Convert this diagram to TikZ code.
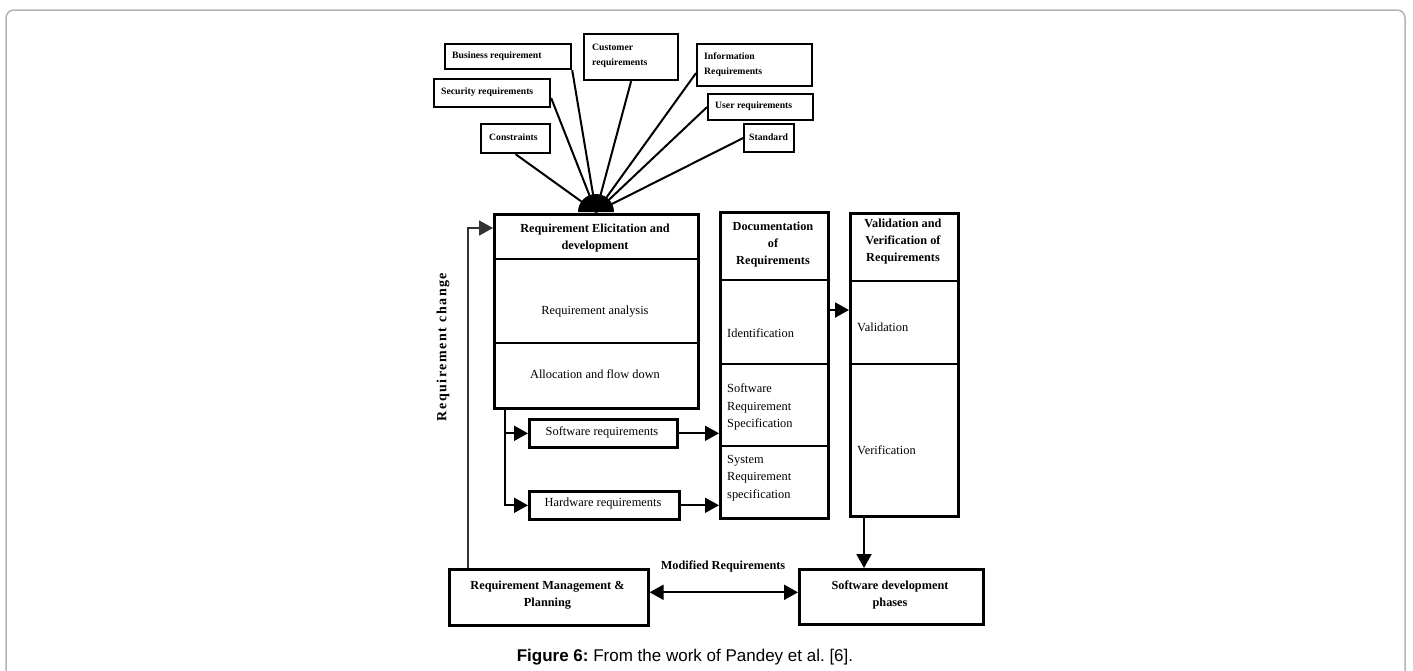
\documentclass[tikz,border=0pt]{standalone}
\usepackage{fontspec}
\setmainfont{Liberation Serif}
\newfontfamily\capfont{Liberation Sans}
\usetikzlibrary{arrows.meta}
\begin{document}
\begin{tikzpicture}[x=1pt,y=-1pt,
  box/.style={draw, line width=2.6pt, inner sep=0pt, anchor=north west},
  tagbox/.style={draw, line width=2.2pt, inner sep=0pt, anchor=north west},
  divider/.style={line width=1.6pt},
  spoke/.style={line width=2pt},
  flow/.style={line width=2pt, -{Triangle[length=14pt,width=15pt]}},
  hd/.style={font=\fontsize{12.3}{17}\selectfont\bfseries, align=center, inner sep=0pt},
  txt/.style={font=\fontsize{12.4}{17.5}\selectfont, align=left, inner sep=0pt},
  tag/.style={font=\fontsize{9.7}{15}\selectfont\bfseries, align=left, inner sep=0pt, anchor=west},
]
\useasboundingbox (0,0) rectangle (1413,670);

% outer frame, open at the bottom
\draw[line width=1.5pt, color=gray!60]
  (6,672) -- (6,18) arc[start angle=180, end angle=270, radius=8]
  -- (1397,10) arc[start angle=270, end angle=360, radius=8] -- (1405,672);

% ---- requirement sources ----
\node[tagbox, minimum width=126pt, minimum height=25pt] (biz)  at (444,43) {};
\node[tagbox, minimum width=94pt,  minimum height=46pt] (cust) at (583,33) {};
\node[tagbox, minimum width=115pt, minimum height=42pt] (info) at (696,43) {};
\node[tagbox, minimum width=116pt, minimum height=28pt] (sec)  at (433,78) {};
\node[tagbox, minimum width=105pt, minimum height=26pt] (user) at (707,93) {};
\node[tagbox, minimum width=69pt,  minimum height=29pt] (cons) at (480,123) {};
\node[tagbox, minimum width=50pt,  minimum height=28pt] (std)  at (743,123) {};

\node[tag] (bizt)  at (452,56)    {Business requirement};
\node[tag] (custt) at (592,55.5)  {Customer\\requirements};
\node[tag] (infot) at (704,64.5)  {Information\\Requirements};
\node[tag] (sect)  at (441,92)    {Security requirements};
\node[tag] (usert) at (715,106)   {User requirements};
\node[tag] (const) at (489,137)   {Constraints};
\node[tag] (stdt)  at (749,137)   {Standard};

% spokes gathering into the hub
\coordinate (hub) at (596,212);
\draw[spoke] (cons.south) -- (hub);
\draw[spoke] ([yshift=-5pt]sec.east) -- (hub);
\draw[spoke] (biz.south east) -- (hub);
\draw[spoke] (cust.south) -- (hub);
\draw[spoke] ([yshift=-8pt]info.west) -- (hub);
\draw[spoke] (user.west) -- (hub);
\draw[spoke] (std.west) -- (hub);
\fill (578,212) arc[start angle=180, end angle=360, radius=18] -- cycle;

% ---- elicitation and development ----
\node[box, minimum width=204pt, minimum height=194pt] (elic) at (493,213) {};
\draw[divider] (493,259) -- (697,259);
\draw[divider] (493,343) -- (697,343);
\node[hd] (elich) at (595,238) {Requirement Elicitation and\\development};
\node[txt] (anal)  at (595,312) {Requirement analysis};
\node[txt] (alloc) at (595,374) {Allocation and flow down};

% ---- documentation ----
\node[box, minimum width=108pt, minimum height=306pt] (doc) at (719,211) {};
\draw[divider] (719,280) -- (827,280);
\draw[divider] (719,364) -- (827,364);
\draw[divider] (719,446) -- (827,446);
\node[hd] (doch) at (773,245) {Documentation\\of\\Requirements};
\node[txt, anchor=west] (ident) at (727,333) {Identification};
\node[txt, anchor=west] (srs)   at (727,407) {Software\\Requirement\\Specification};
\node[txt, anchor=west] (sysrs) at (727,478) {System\\Requirement\\specification};

% ---- validation and verification ----
\node[box, minimum width=108pt, minimum height=303pt] (val) at (849,212) {};
\draw[divider] (849,281) -- (957,281);
\draw[divider] (849,364) -- (957,364);
\node[hd] (valh) at (903,242) {Validation and\\Verification of\\Requirements};
\node[txt, anchor=west] (valt) at (857,327) {Validation};
\node[txt, anchor=west] (vert) at (857,450) {Verification};

% ---- allocated requirements ----
\node[box, minimum width=148pt, minimum height=28pt] (sw) at (528,418) {};
\node[box, minimum width=150pt, minimum height=28pt] (hw) at (528,490) {};
\node[txt] (swt) at (602,432) {Software requirements};
\node[txt] (hwt) at (603,504) {Hardware requirements};

% ---- management and development ----
\node[box, minimum width=199pt, minimum height=56pt] (rmp) at (448,568) {};
\node[box, minimum width=184pt, minimum height=55pt] (sdp) at (798,568) {};
\node[hd] (rmpt) at (547.5,595) {Requirement Management \&\\Planning};
\node[hd] (sdpt) at (890,595) {Software development\\phases};

% ---- connectors ----
\coordinate (split) at ([xshift=12pt]elic.south west);
\draw[flow] (split) |- (sw.west);
\draw[flow] (split) |- (hw.west);
\draw[flow] (sw.east) -- (sw.east -| doc.west);
\draw[flow] (hw.east) -- (hw.east -| doc.west);
\coordinate (docout) at ([yshift=-99pt]doc.north east);
\draw[flow] (docout) -- (docout -| val.west);
\coordinate (vdrop) at ([xshift=15pt]val.south west);
\draw[flow] (vdrop) -- (vdrop |- sdp.north);
\coordinate (rmpout) at ([yshift=5pt]rmp.east);
\draw[line width=2pt, {Triangle[length=14pt,width=15pt]}-{Triangle[length=14pt,width=15pt]}]
  (rmpout) -- (rmpout -| sdp.west);
\node[hd] (modt) at (723,566) {Modified Requirements};

\coordinate (rcup) at ([xshift=20pt]rmp.north west);
\coordinate (rcin) at ([yshift=-15pt]elic.north west);
\draw[flow, line width=1.8pt, color=black!80] (rcup) |- (rcin);
\node[rotate=90, inner sep=0pt,
      font=\fontsize{14}{16}\selectfont\bfseries\addfontfeature{LetterSpace=11}]
  (rct) at (443,347) {Requirement change};

% ---- caption ----
\node[inner sep=0pt, font=\capfont\fontsize{17}{20}\selectfont] (cap) at (685,657)
  {\textbf{Figure 6:}\ From the work of Pandey et al.\ [6].};
\end{tikzpicture}
\end{document}
